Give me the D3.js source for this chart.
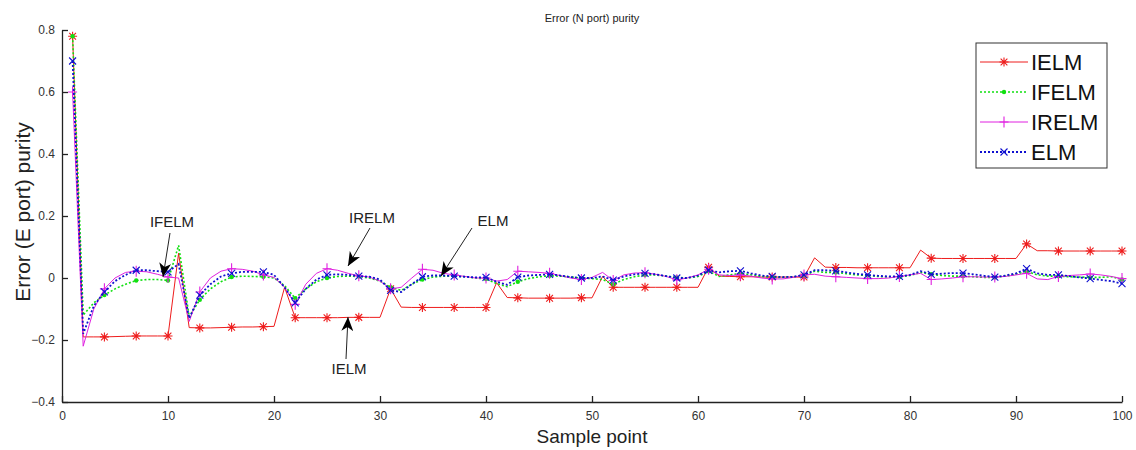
<!DOCTYPE html>
<html><head><meta charset="utf-8">
<script src="https://cdn.jsdelivr.net/npm/d3@7"></script>
<style>body{margin:0;background:#fff;}svg{display:block;font-family:"Liberation Sans",Arial,sans-serif;}</style>
</head><body>
<svg id="c" width="1136" height="450"></svg>
<script>
const samples = d3.range(1, 101);
const IELM = [0.78,
 -0.19,-0.19,-0.19,-0.189,-0.188,-0.187,-0.187,-0.187,-0.187,
 0.08,
 -0.16,-0.161,-0.161,-0.16,-0.159,-0.158,-0.158,-0.157,-0.156,
 -0.03,
 -0.128,-0.128,-0.128,-0.128,-0.128,-0.127,-0.127,-0.127,-0.127,
 -0.035,
 -0.094,-0.095,-0.095,-0.095,-0.095,-0.095,-0.095,-0.095,-0.095,
 -0.015,
 -0.063,-0.064,-0.065,-0.065,-0.065,-0.065,-0.065,-0.064,-0.064,
 0.005,
 -0.03,-0.03,-0.03,-0.03,-0.03,-0.03,-0.03,-0.03,-0.03,
 0.035,
 0.006,0.005,0.004,0.004,0.003,0.003,0.003,0.003,0.003,
 0.065,
 0.035,0.034,0.034,0.033,0.033,0.033,0.033,0.033,0.033,
 0.09,
 0.064,0.063,0.063,0.063,0.063,0.063,0.063,0.063,0.063,
 0.11,
 0.088,0.088,0.087,0.087,0.087,0.087,0.087,0.087,0.087];
const IFELM = [0.78,-0.12,-0.08,-0.055,-0.035,-0.02,-0.008,-0.005,-0.005,-0.008,
 0.105,-0.125,-0.07,-0.035,-0.012,0.003,0.006,0.005,0.004,0.0,
 -0.025,-0.065,-0.035,-0.012,0.0,0.005,0.006,0.005,0.0,-0.01,
 -0.03,-0.04,-0.02,-0.005,0.003,0.006,0.006,0.004,0.0,-0.003,
 -0.018,-0.028,-0.012,-0.002,0.004,0.007,0.006,0.003,0.0,-0.002,
 -0.005,-0.02,-0.005,0.004,0.01,0.01,0.006,0.002,0.0,0.005,
 0.022,0.005,0.01,0.015,0.01,0.005,0.002,0.002,0.004,0.008,
 0.022,0.018,0.018,0.014,0.01,0.008,0.005,0.003,0.003,0.008,
 0.018,0.012,0.008,0.006,0.006,0.004,0.002,0.002,0.006,0.012,
 0.022,0.01,0.006,0.006,0.004,0.003,0.002,0.002,0.004,-0.005];
const IRELM = [0.6,-0.22,-0.1,-0.035,0.0,0.018,0.022,0.02,0.012,0.003,
 0.0,-0.14,-0.045,0.0,0.022,0.03,0.028,0.022,0.01,0.002,
 -0.03,-0.085,-0.02,0.015,0.03,0.025,0.015,0.007,0.003,-0.01,
 -0.035,-0.03,0.0,0.028,0.025,0.015,0.01,0.005,0.0,0.0,
 -0.01,-0.005,0.022,0.02,0.018,0.015,0.008,0.0,-0.005,0.002,
 0.018,-0.008,0.01,0.016,0.017,0.012,0.005,-0.006,0.0,0.01,
 0.028,0.01,0.008,0.01,0.006,0.0,-0.003,-0.003,0.002,0.01,
 0.012,0.006,0.004,0.002,0.0,-0.002,-0.002,0.0,0.005,0.01,
 0.015,-0.005,-0.003,0.0,0.004,0.004,0.003,0.003,0.005,0.01,
 0.015,-0.003,-0.005,0.005,0.008,0.01,0.013,0.01,0.005,-0.002];
const ELM = [0.7,-0.18,-0.09,-0.045,-0.01,0.01,0.025,0.025,0.022,0.02,
 0.045,-0.13,-0.055,-0.02,0.005,0.015,0.02,0.02,0.02,0.01,
 -0.03,-0.08,-0.035,-0.005,0.01,0.012,0.01,0.006,0.004,-0.005,
 -0.04,-0.045,-0.02,0.004,0.008,0.008,0.006,0.004,0.002,0.002,
 -0.012,-0.022,0.003,0.008,0.01,0.012,0.008,0.003,0.0,0.0,
 0.005,-0.007,0.005,0.012,0.015,0.012,0.006,0.0,0.0,0.008,
 0.025,0.018,0.022,0.023,0.015,0.008,0.005,0.003,0.004,0.01,
 0.025,0.025,0.023,0.018,0.013,0.01,0.007,0.005,0.005,0.01,
 0.022,0.012,0.014,0.016,0.016,0.012,0.007,0.003,0.008,0.015,
 0.03,0.015,0.01,0.01,0.006,0.002,-0.002,-0.006,-0.01,-0.018];
const xTicks = [0,10,20,30,40,50,60,70,80,90,100];
const yTicks = [-0.4,-0.2,0,0.2,0.4,0.6,0.8];
const seriesNames = ["IELM","IFELM","IRELM","ELM"];
const seriesData = [IELM, IFELM, IRELM, ELM];
const seriesColors = ["#ee1c1c","#10e010","#e020e0","#1010d0"];
const seriesDash = [null,"2,2",null,"2,2"];
const seriesWidth = [1,1.6,1,1.8];
const seriesMarker = ["star","dot","plus","cross"];
const annotations = [
 {text:"IFELM", tx:172, ty:227, x1:170, y1:233, x2:163, y2:277},
 {text:"IRELM", tx:372, ty:223, x1:370, y1:228, x2:348, y2:266},
 {text:"ELM",   tx:493, ty:226, x1:472, y1:228, x2:441, y2:276},
 {text:"IELM",  tx:349, ty:374, x1:346, y1:359, x2:348, y2:317}
];

const svg = d3.select("#c");
const L=62, R=1122, T=30, B=402;
const x = d3.scaleLinear().domain([0,100]).range([L,R]);
const y = d3.scaleLinear().domain([-0.4,0.8]).range([B,T]);

// axes
const xAxis = d3.axisBottom(x).tickValues(xTicks).tickSizeInner(-6).tickSizeOuter(0).tickPadding(9);
const gx = svg.append("g").attr("transform",`translate(0,${B})`).call(xAxis);
gx.select(".domain").attr("stroke","#222").attr("stroke-width",1.3);
gx.selectAll(".tick line").attr("stroke","#222").attr("stroke-width",1.3);
gx.selectAll("text").attr("font-size",12).attr("fill","#333").attr("font-family","'Liberation Sans Narrow','Liberation Sans',Arial");

const yAxis = d3.axisLeft(y).tickValues(yTicks).tickFormat(d=>d===0?"0":d3.format(".1f")(d)).tickSizeInner(-6).tickSizeOuter(0).tickPadding(7);
const gy = svg.append("g").attr("transform",`translate(${L},0)`).call(yAxis);
gy.select(".domain").attr("stroke","#222").attr("stroke-width",1.3);
gy.selectAll(".tick line").attr("stroke","#222").attr("stroke-width",1.3);
gy.selectAll("text").attr("font-size",12).attr("fill","#333");

// titles
svg.append("text").attr("x",592).attr("y",22).attr("text-anchor","middle").attr("font-size",11).attr("fill","#222").text("Error (N port) purity");
svg.append("text").attr("x",592).attr("y",443).attr("text-anchor","middle").attr("font-size",19).attr("fill","#222").text("Sample point");
svg.append("text").attr("transform","translate(30,212) rotate(-90)").attr("text-anchor","middle").attr("font-size",21).attr("fill","#222").text("Error (E port) purity");

// markers
function drawMarker(g, type, cx, cy, color){
  const s=4.5;
  if(type==="star"){
    g.append("path").attr("d",`M${cx-s},${cy}H${cx+s}M${cx},${cy-s}V${cy+s}M${cx-s*0.75},${cy-s*0.75}L${cx+s*0.75},${cy+s*0.75}M${cx-s*0.75},${cy+s*0.75}L${cx+s*0.75},${cy-s*0.75}`).attr("stroke",color).attr("stroke-width",1.1).attr("fill","none");
  } else if(type==="plus"){
    g.append("path").attr("d",`M${cx-s},${cy}H${cx+s}M${cx},${cy-s-1}V${cy+s+1}`).attr("stroke",color).attr("stroke-width",1.1).attr("fill","none");
  } else if(type==="cross"){
    const c=3.5;
    g.append("path").attr("d",`M${cx-c},${cy-c}L${cx+c},${cy+c}M${cx-c},${cy+c}L${cx+c},${cy-c}`).attr("stroke",color).attr("stroke-width",1.1).attr("fill","none");
  } else {
    g.append("circle").attr("cx",cx).attr("cy",cy).attr("r",2.2).attr("fill",color);
  }
}

const line = d3.line().x((d,i)=>x(samples[i])).y(d=>y(d));
seriesData.forEach((data,k)=>{
  const g = svg.append("g");
  g.append("path").datum(data).attr("d",line).attr("fill","none")
    .attr("stroke",seriesColors[k]).attr("stroke-width",seriesWidth[k])
    .attr("stroke-dasharray",seriesDash[k]);
  data.forEach((v,i)=>{ if(i%3===0) drawMarker(g, seriesMarker[k], x(samples[i]), y(v), seriesColors[k]); });
});

// annotations
svg.append("defs").append("marker").attr("id","ah").attr("viewBox","0 0 14 12").attr("refX",14).attr("refY",6)
  .attr("markerWidth",14).attr("markerHeight",12).attr("markerUnits","userSpaceOnUse").attr("orient","auto")
  .append("path").attr("d","M0,0L14,6L0,12L4,6Z").attr("fill","#000");
annotations.forEach(a=>{
  svg.append("line").attr("x1",a.x1).attr("y1",a.y1).attr("x2",a.x2).attr("y2",a.y2)
    .attr("stroke","#222").attr("stroke-width",1).attr("marker-end","url(#ah)");
  svg.append("text").attr("x",a.tx).attr("y",a.ty).attr("text-anchor","middle").attr("font-size",15).attr("fill","#222").text(a.text);
});

// legend
const lg = svg.append("g");
lg.append("rect").attr("x",976).attr("y",43).attr("width",131).attr("height",125).attr("fill","#fff").attr("stroke","#333").attr("stroke-width",1);
seriesNames.forEach((n,k)=>{
  const ly = 62 + k*30;
  lg.append("line").attr("x1",980).attr("x2",1028).attr("y1",ly).attr("y2",ly)
    .attr("stroke",seriesColors[k]).attr("stroke-width",seriesWidth[k]).attr("stroke-dasharray",seriesDash[k]);
  drawMarker(lg, seriesMarker[k], 1004, ly, seriesColors[k]);
  lg.append("text").attr("x",1031).attr("y",ly+8).attr("font-size",22).attr("fill","#111").text(n);
});
</script>
</body></html>
